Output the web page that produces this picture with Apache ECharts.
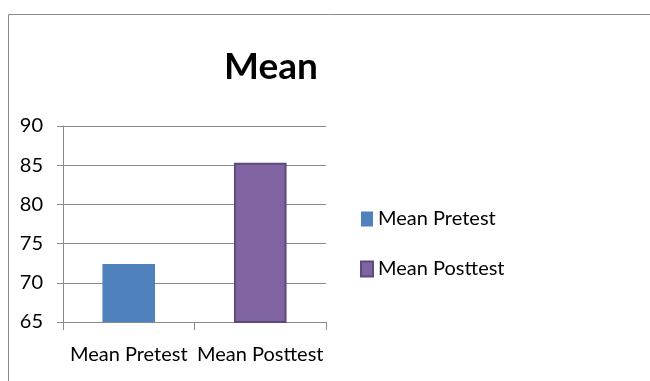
<!DOCTYPE html>
<html>
<head>
<meta charset="utf-8">
<script src="https://cdn.jsdelivr.net/npm/echarts@6/dist/echarts.min.js"></script>
<style>
html,body{margin:0;padding:0;background:#fff;}
#chart{width:650px;height:381px;}
</style>
</head>
<body>
<div id="chart"></div>
<script>
var categories = ['Mean Pretest', 'Mean Posttest'];
var pretestValues = [72.4, null];
var posttestValues = [null, 85.3];
var yTicks = {min: 65, max: 90, step: 5};

var chart = echarts.init(document.getElementById('chart'));

var gridColor = '#8a8a8a';
var font = 'Lato, "Open Sans", sans-serif';

option = {
    animation: false,
    graphic: [
        {
            type: 'rect',
            shape: {x: 8.5, y: 14.5, width: 700, height: 400},
            style: {fill: 'none', stroke: '#8c8c8c', lineWidth: 1}
        }
    ],
    title: {
        text: 'Mean',
        left: 219,
        top: 44,
        textStyle: {fontFamily: font, fontWeight: 'bold', fontSize: 37, color: '#000'}
    },
    legend: {
        orient: 'vertical',
        left: 355,
        top: 204,
        itemWidth: 12,
        itemHeight: 15,
        itemGap: 30,
        textStyle: {fontFamily: font, fontSize: 20, color: '#000'},
        data: [
            {name: 'Mean Pretest', icon: 'rect'},
            {name: 'Mean Posttest', icon: 'rect'}
        ]
    },
    grid: {left: 63, right: 324, top: 126, bottom: 59},
    xAxis: {
        type: 'category',
        data: categories,
        axisLine: {lineStyle: {color: gridColor, width: 1}},
        axisTick: {show: true, length: 8, lineStyle: {color: gridColor}},
        axisLabel: {fontFamily: font, fontSize: 20, color: '#000', margin: 23, interval: 0}
    },
    yAxis: {
        type: 'value',
        min: yTicks.min,
        max: yTicks.max,
        interval: yTicks.step,
        axisLine: {show: true, lineStyle: {color: gridColor, width: 1}},
        axisTick: {show: true, length: 6, lineStyle: {color: gridColor}},
        splitLine: {lineStyle: {color: gridColor, width: 1}},
        axisLabel: {fontFamily: font, fontSize: 20, color: '#000', margin: 20}
    },
    series: [
        {
            name: 'Mean Pretest',
            type: 'bar',
            stack: 'one',
            barWidth: '40%',
            data: pretestValues,
            itemStyle: {color: '#4F81BD'}
        },
        {
            name: 'Mean Posttest',
            type: 'bar',
            stack: 'one',
            barWidth: '40%',
            data: posttestValues,
            itemStyle: {color: '#8064A2', borderColor: '#5E4A7C', borderWidth: 2}
        }
    ]
};

chart.setOption(option);
</script>
</body>
</html>
